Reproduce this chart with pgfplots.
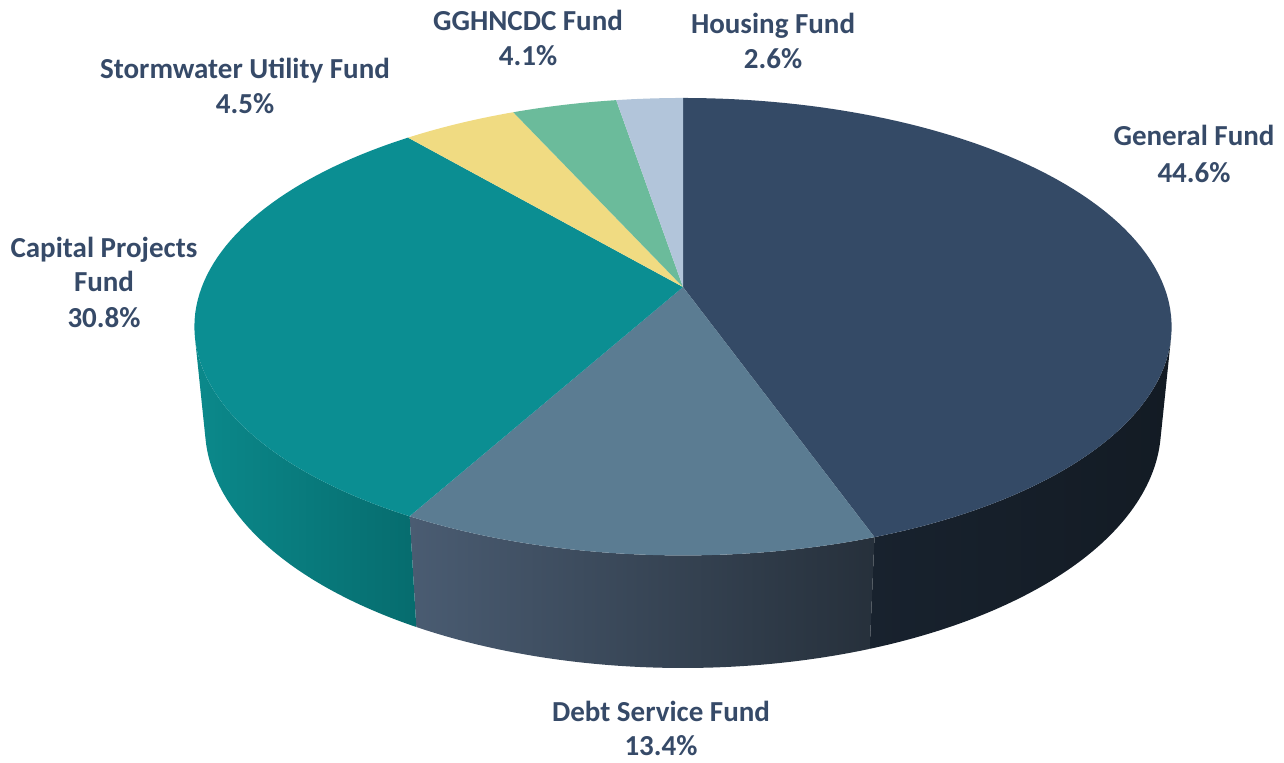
\documentclass[border=0pt]{standalone}
\usepackage{pgfplots}
\pgfplotsset{compat=1.18}
\usepackage{fontspec}
\setmainfont{Carlito}
\definecolor{cGen}{HTML}{344A66}
\definecolor{cDebt}{HTML}{5B7C92}
\definecolor{cCap}{HTML}{0B8E92}
\definecolor{cStorm}{HTML}{F0DB82}
\definecolor{cGG}{HTML}{6BBB9B}
\definecolor{cHous}{HTML}{B2C5DA}
\definecolor{cGenSL}{HTML}{18222E}
\definecolor{cGenSR}{HTML}{131B24}
\definecolor{cDebtSL}{HTML}{4A5C72}
\definecolor{cDebtSR}{HTML}{26303B}
\definecolor{cCapSL}{HTML}{0B898B}
\definecolor{cCapSR}{HTML}{066C6E}
\definecolor{lab}{HTML}{364A68}
% shares (percent)
\def\vGen{44.6}\def\vDebt{13.4}\def\vCap{30.8}\def\vStorm{4.5}\def\vGG{4.1}\def\vHous{2.6}
% camera / pie geometry
\def\pF{2459}\def\pd{5.11}\def\ps{0.461}\def\pc{0.887}\def\ph{0.237}
\pgfmathsetmacro{\aA}{90}
\pgfmathsetmacro{\aB}{\aA-3.6*\vGen}
\pgfmathsetmacro{\aC}{\aB-3.6*\vDebt}
\pgfmathsetmacro{\aD}{\aC-3.6*\vCap}
\pgfmathsetmacro{\aE}{\aD-3.6*\vStorm}
\pgfmathsetmacro{\aF}{\aE-3.6*\vGG}
\pgfmathsetmacro{\aG}{\aF-3.6*\vHous}
\pgfmathsetmacro{\sR}{-asin(1/(\pd*\pc))}
\pgfmathsetmacro{\sL}{-180-\sR}
\tikzset{lbl/.style={font=\fontsize{14.5}{17}\selectfont\bfseries,text=lab,anchor=base,inner sep=0pt}}
\begin{document}
\begin{tikzpicture}[declare function={
  pden(\t,\z)=\pd+sin(\t)*\pc-\z*\ps;
  px(\t,\z)=683+\pF*cos(\t)/pden(\t,\z);
  py(\t,\z)=475+\pF*(sin(\t)*\ps+\z*\pc)/pden(\t,\z);
  st(\p,\a,\b)=ifthenelse(\p<1.005,\a+(\b-\a)*\p,\b+(\a-\b)*(\p-61/60)*60/59);
  sz(\p)=ifthenelse(\p<1.005,0,-\ph);
}]
\begin{axis}[x=0.5pt,y=0.5pt,xmin=0,xmax=1284,ymin=0,ymax=762,
  axis lines=none,clip=false]
% sides
\addplot[draw=none,left color=cGenSL,right color=cGenSR,domain=0:2,samples=121]
  ({px(st(x,\sR,\aB),sz(x))},{py(st(x,\sR,\aB),sz(x))}) -- cycle;
\addplot[draw=none,left color=cDebtSL,right color=cDebtSR,domain=0:2,samples=121]
  ({px(st(x,\aB,\aC),sz(x))},{py(st(x,\aB,\aC),sz(x))}) -- cycle;
\addplot[draw=none,left color=cCapSL,right color=cCapSR,domain=0:2,samples=121]
  ({px(st(x,\aC,\sL),sz(x))},{py(st(x,\aC,\sL),sz(x))}) -- cycle;
% top faces
\addplot[fill=cGen,draw=none,domain=\aB:\aA,samples=90] ({px(x,0)},{py(x,0)}) -- (axis cs:683,475) -- cycle;
\addplot[fill=cDebt,draw=none,domain=\aC:\aB,samples=40] ({px(x,0)},{py(x,0)}) -- (axis cs:683,475) -- cycle;
\addplot[fill=cCap,draw=none,domain=\aD:\aC,samples=70] ({px(x,0)},{py(x,0)}) -- (axis cs:683,475) -- cycle;
\addplot[fill=cStorm,draw=none,domain=\aE:\aD,samples=15] ({px(x,0)},{py(x,0)}) -- (axis cs:683,475) -- cycle;
\addplot[fill=cGG,draw=none,domain=\aF:\aE,samples=15] ({px(x,0)},{py(x,0)}) -- (axis cs:683,475) -- cycle;
\addplot[fill=cHous,draw=none,domain=\aG:\aF,samples=10] ({px(x,0)},{py(x,0)}) -- (axis cs:683,475) -- cycle;
% labels
\node[lbl] at (axis cs:1194,616) {General Fund};
\node[lbl] at (axis cs:1194,580) {44.6\%};
\node[lbl] at (axis cs:661,41) {Debt Service Fund};
\node[lbl] at (axis cs:661,7) {13.4\%};
\node[lbl] at (axis cs:104,505) {Capital Projects};
\node[lbl] at (axis cs:104,471) {Fund};
\node[lbl] at (axis cs:104,435) {30.8\%};
\node[lbl] at (axis cs:245,683) {Stormwater Utility Fund};
\node[lbl] at (axis cs:245,648) {4.5\%};
\node[lbl] at (axis cs:528,731) {GGHNCDC Fund};
\node[lbl] at (axis cs:528,696) {4.1\%};
\node[lbl] at (axis cs:773,728) {Housing Fund};
\node[lbl] at (axis cs:773,693) {2.6\%};
\end{axis}
\pgfresetboundingbox
\path (0,0) rectangle (642pt,381pt);
\end{tikzpicture}
\end{document}
